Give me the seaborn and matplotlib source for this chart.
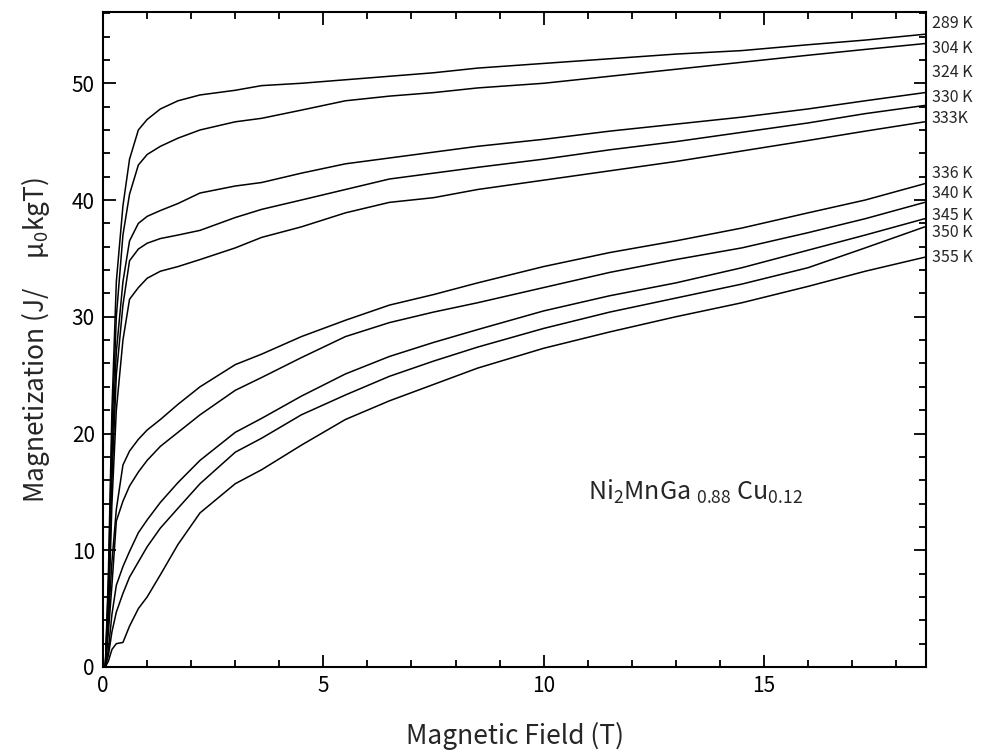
import numpy as np
import pandas as pd
import matplotlib
matplotlib.use("Agg")
import matplotlib.pyplot as plt
import seaborn as sns
from matplotlib.ticker import MultipleLocator
import matplotlib.transforms as mtransforms

# field grid (T)
field = [0.05, 0.12, 0.2, 0.3, 0.45, 0.6, 0.8, 1.0, 1.3, 1.7, 2.2, 3.0, 3.6,
         4.5, 5.5, 6.5, 7.5, 8.5, 10, 11.5, 13, 14.5, 16, 17.3, 18.65]

# magnetization curves
m289 = [0, 8, 22, 33, 39.5, 43.5, 46.0, 46.9, 47.8, 48.5, 49.0, 49.4, 49.8,
        50.0, 50.3, 50.6, 50.9, 51.3, 51.7, 52.1, 52.5, 52.8, 53.3, 53.7, 54.2]
m304 = [0, 7, 20, 30, 37, 40.5, 43.0, 43.9, 44.6, 45.3, 46.0, 46.7, 47.0,
        47.7, 48.5, 48.9, 49.2, 49.6, 50.0, 50.6, 51.2, 51.8, 52.4, 52.9, 53.4]
m324 = [0, 6, 18, 27, 33, 36.5, 38.0, 38.6, 39.1, 39.7, 40.6, 41.2, 41.5,
        42.3, 43.1, 43.6, 44.1, 44.6, 45.2, 45.9, 46.5, 47.1, 47.8, 48.5, 49.2]
m330 = [0, 5, 16, 25, 31, 34.8, 35.8, 36.3, 36.7, 37.0, 37.4, 38.5, 39.2,
        40.0, 40.9, 41.8, 42.3, 42.8, 43.5, 44.3, 45.0, 45.8, 46.6, 47.4, 48.1]
m333 = [0, 4, 14, 22, 28, 31.5, 32.5, 33.3, 33.9, 34.3, 34.9, 35.9, 36.8,
        37.7, 38.9, 39.8, 40.2, 40.9, 41.7, 42.5, 43.3, 44.2, 45.1, 45.9, 46.7]
m336 = [0, 4, 9, 13.5, 17.3, 18.5, 19.5, 20.3, 21.2, 22.5, 24.0, 25.9, 26.8,
        28.3, 29.7, 31.0, 31.9, 32.9, 34.3, 35.5, 36.5, 37.6, 38.9, 40.0, 41.4]
m340 = [0, 3, 7, 12.5, 14.2, 15.5, 16.7, 17.7, 18.9, 20.1, 21.6, 23.7, 24.8,
        26.5, 28.3, 29.5, 30.4, 31.2, 32.5, 33.8, 34.9, 35.9, 37.2, 38.4, 39.8]
m345 = [0, 1.5, 4.5, 7.0, 8.6, 9.9, 11.5, 12.6, 14.1, 15.8, 17.7, 20.1, 21.3,
        23.2, 25.1, 26.6, 27.8, 28.9, 30.5, 31.8, 32.9, 34.2, 35.7, 37.0, 38.4]
m350 = [0, 1, 3, 4.7, 6.3, 7.7, 9.0, 10.3, 11.9, 13.6, 15.7, 18.4, 19.6,
        21.6, 23.3, 24.9, 26.2, 27.4, 29.0, 30.4, 31.6, 32.8, 34.2, 35.9, 37.7]
m355 = [0, 0.5, 1.5, 2.0, 2.1, 3.5, 5.0, 6.0, 7.9, 10.5, 13.2, 15.7, 16.9,
        19.0, 21.2, 22.8, 24.2, 25.6, 27.3, 28.7, 30.0, 31.2, 32.6, 33.9, 35.1]

temps = ["289 K", "304 K", "324 K", "330 K", "333K",
         "336 K", "340 K", "345 K", "350 K", "355 K"]
curves = [m289, m304, m324, m330, m333, m336, m340, m345, m350, m355]
label_y = [55.1, 53.0, 50.9, 48.8, 47.0, 42.3, 40.6, 38.7, 37.2, 35.1]

rows = []
for t, m in zip(temps, curves):
    for h, v in zip(field, m):
        rows.append({"field": h, "mag": v, "temp": t})
df = pd.DataFrame(rows)

sns.set_theme(style="ticks")
plt.rcParams['font.family'] = ['Noto Sans CJK JP', 'DejaVu Sans']
plt.rcParams['mathtext.fontset'] = 'custom'
plt.rcParams['mathtext.rm'] = 'Noto Sans CJK JP'
plt.rcParams['mathtext.it'] = 'Noto Sans CJK JP'

fig = plt.figure(figsize=(9.82, 7.54), dpi=100)
ax = fig.add_axes([0.105, 0.1154, 0.838, 0.8686])

sns.lineplot(data=df, x="field", y="mag", hue="temp", palette=["black"] * 10,
             estimator=None, sort=False, legend=False, linewidth=1.1, ax=ax)

ax.set_xlim(0, 18.68)
ax.set_ylim(0, 56.1)
ax.xaxis.set_major_locator(MultipleLocator(5))
ax.xaxis.set_minor_locator(MultipleLocator(1))
ax.yaxis.set_major_locator(MultipleLocator(10))
ax.yaxis.set_minor_locator(MultipleLocator(2))
ax.tick_params(which="both", direction="in", top=True, right=True,
               width=1.3, color="black", labelsize=15, colors="black")
ax.tick_params(which="major", length=9, pad=6)
ax.tick_params(which="minor", length=5)
for s in ax.spines.values():
    s.set_linewidth(1.5)
    s.set_color("black")

ax.set_xlabel("Magnetic Field (T)", fontsize=19, labelpad=18)
ax.set_ylabel(r"Magnetization (J/     $\mu_0$kgT)", fontsize=19, labelpad=14)

trans = mtransforms.blended_transform_factory(ax.transAxes, ax.transData)
for t, yv in zip(temps, label_y):
    ax.text(1.007, yv, t, transform=trans, fontsize=11.5, va="center", ha="left")

ax.text(11.0, 14.3, r"Ni$_2$MnGa $_{0.88}$ Cu$_{0.12}$", fontsize=18)

fig.savefig("out.png", dpi=100)
